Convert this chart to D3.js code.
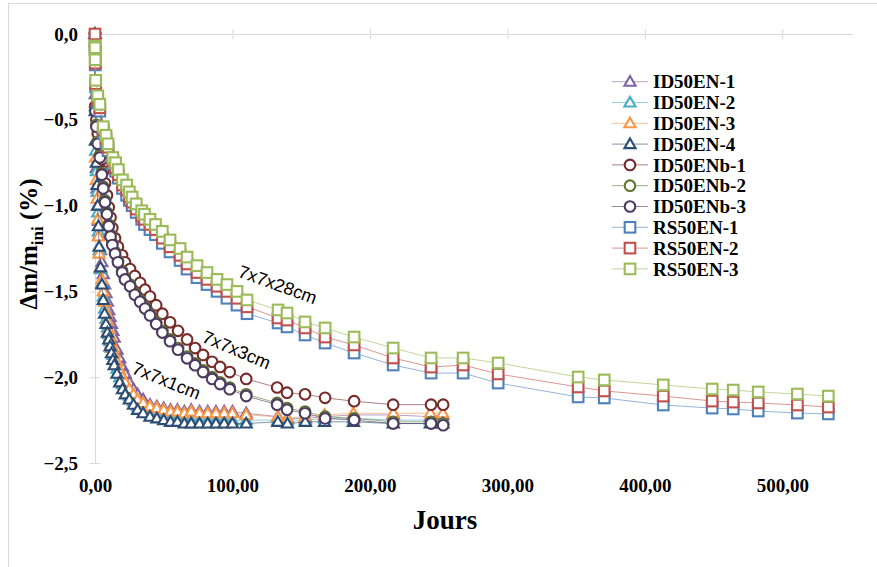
<!DOCTYPE html>
<html>
<head>
<meta charset="utf-8">
<script src="https://cdn.jsdelivr.net/npm/d3@7/dist/d3.min.js"></script>
<style>
  html, body { margin: 0; padding: 0; background: #fff; }
  svg { display: block; }
  .tick-label { font-family: "Liberation Serif", "Times New Roman", serif; font-weight: bold; fill: #000; }
</style>
</head>
<body>
<svg id="chart" width="877" height="567"></svg>
<script>
// ---- Data: mass loss Δm/m_ini (%) vs. time (days) ----
const xTicks = [0, 100, 200, 300, 400, 500];
const yTicks = [0, -0.5, -1.0, -1.5, -2.0, -2.5];

// 7x7x1cm specimens (triangles)
const daysID50EN = [0, 0.2, 0.5, 1, 1.5, 2, 2.5, 3, 4, 5, 6, 7, 8, 9, 10, 11, 12, 13, 14, 16, 18, 20, 22, 25, 28, 31, 35, 40, 45, 50, 55, 60, 65, 70, 76, 82, 88, 94, 100, 110, 133, 140, 153, 167, 188, 217, 244, 253];
const ID50EN_1 = [0, -0.35, -0.62, -0.78, -0.90, -1.00, -1.09, -1.17, -1.26, -1.33, -1.40, -1.46, -1.51, -1.56, -1.61, -1.65, -1.69, -1.73, -1.77, -1.84, -1.89, -1.94, -1.98, -2.03, -2.07, -2.10, -2.13, -2.16, -2.17, -2.18, -2.19, -2.19, -2.20, -2.19, -2.20, -2.20, -2.20, -2.20, -2.20, -2.21, -2.23, -2.24, -2.24, -2.23, -2.22, -2.22, -2.23, -2.22];
const ID50EN_2 = [0, -0.42, -0.68, -0.80, -0.92, -1.04, -1.15, -1.26, -1.37, -1.45, -1.53, -1.60, -1.66, -1.71, -1.75, -1.79, -1.83, -1.87, -1.90, -1.95, -2.00, -2.04, -2.07, -2.11, -2.14, -2.17, -2.19, -2.21, -2.22, -2.23, -2.24, -2.24, -2.25, -2.25, -2.25, -2.25, -2.25, -2.25, -2.25, -2.25, -2.25, -2.25, -2.25, -2.24, -2.24, -2.25, -2.25, -2.25];
const ID50EN_3 = [0, -0.40, -0.72, -0.85, -0.96, -1.08, -1.18, -1.28, -1.36, -1.43, -1.50, -1.56, -1.62, -1.67, -1.72, -1.76, -1.80, -1.83, -1.86, -1.91, -1.96, -2.00, -2.03, -2.07, -2.10, -2.13, -2.15, -2.17, -2.18, -2.19, -2.20, -2.20, -2.21, -2.20, -2.21, -2.21, -2.21, -2.21, -2.21, -2.22, -2.23, -2.24, -2.23, -2.22, -2.21, -2.21, -2.21, -2.21];
const ID50EN_4 = [0, -0.45, -0.62, -0.75, -0.88, -1.00, -1.12, -1.24, -1.36, -1.46, -1.55, -1.63, -1.69, -1.74, -1.78, -1.82, -1.86, -1.90, -1.93, -1.98, -2.03, -2.07, -2.10, -2.13, -2.16, -2.19, -2.21, -2.23, -2.24, -2.25, -2.26, -2.26, -2.27, -2.27, -2.27, -2.27, -2.27, -2.27, -2.27, -2.27, -2.26, -2.27, -2.26, -2.26, -2.26, -2.27, -2.27, -2.27];

// 7x7x3cm specimens (circles)
const daysID50ENb = [0, 0.3, 1, 2, 3.5, 5, 6, 7.3, 8.7, 10, 11.3, 12.6, 14.6, 16.7, 19.7, 21.8, 25.5, 29, 32.8, 36.4, 40, 44.5, 49, 54.6, 60.4, 67, 72.8, 78.6, 85.2, 91, 98, 110, 132.5, 139.7, 152.8, 167.4, 188.5, 216.9, 244.5, 253.3];
const ID50ENb_1 = [0, -0.42, -0.50, -0.58, -0.65, -0.73, -0.80, -0.87, -0.94, -1.01, -1.07, -1.13, -1.19, -1.24, -1.29, -1.33, -1.37, -1.41, -1.45, -1.49, -1.53, -1.58, -1.63, -1.68, -1.73, -1.78, -1.83, -1.87, -1.91, -1.94, -1.97, -2.01, -2.06, -2.09, -2.10, -2.12, -2.14, -2.16, -2.16, -2.16];
const ID50ENb_2 = [0, -0.44, -0.53, -0.63, -0.71, -0.81, -0.89, -0.97, -1.04, -1.11, -1.17, -1.22, -1.27, -1.32, -1.38, -1.42, -1.46, -1.51, -1.55, -1.59, -1.63, -1.68, -1.73, -1.78, -1.83, -1.88, -1.92, -1.96, -2.00, -2.03, -2.06, -2.10, -2.15, -2.18, -2.20, -2.23, -2.24, -2.26, -2.26, -2.27];
const ID50ENb_3 = [0, -0.45, -0.54, -0.64, -0.72, -0.82, -0.90, -0.98, -1.05, -1.12, -1.18, -1.23, -1.28, -1.33, -1.39, -1.43, -1.47, -1.52, -1.56, -1.60, -1.64, -1.69, -1.74, -1.79, -1.84, -1.89, -1.93, -1.97, -2.01, -2.04, -2.07, -2.11, -2.16, -2.19, -2.21, -2.24, -2.25, -2.27, -2.27, -2.28];

// 7x7x28cm specimens (squares)
const daysRS50EN = [0, 0.1, 0.2, 0.5, 2, 3.5, 6, 8, 9.5, 13, 15, 17, 20, 23, 25, 27, 30, 34, 36, 40, 44, 49, 54.6, 61.9, 67, 74.2, 81.5, 88.8, 96, 103.3, 110.6, 133.2, 139.7, 152.8, 167.4, 188.5, 216.9, 244.5, 267.8, 293.3, 351.5, 370.5, 413.4, 449, 464.3, 482.5, 511, 533.5];
const RS50EN_1 = [-0.05, -0.10, -0.18, -0.31, -0.40, -0.45, -0.58, -0.63, -0.68, -0.76, -0.80, -0.84, -0.90, -0.94, -0.97, -1.00, -1.04, -1.08, -1.11, -1.14, -1.17, -1.22, -1.27, -1.32, -1.37, -1.42, -1.46, -1.50, -1.54, -1.58, -1.63, -1.684, -1.707, -1.754, -1.801, -1.859, -1.929, -1.976, -1.976, -2.034, -2.115, -2.121, -2.162, -2.18, -2.185, -2.197, -2.209, -2.214];
const RS50EN_2 = [0, -0.09, -0.17, -0.29, -0.38, -0.43, -0.56, -0.61, -0.66, -0.74, -0.78, -0.82, -0.88, -0.91, -0.95, -0.98, -1.02, -1.06, -1.08, -1.11, -1.14, -1.19, -1.24, -1.29, -1.34, -1.39, -1.43, -1.47, -1.50, -1.54, -1.59, -1.655, -1.667, -1.713, -1.766, -1.812, -1.888, -1.941, -1.929, -1.981, -2.057, -2.08, -2.11, -2.139, -2.145, -2.15, -2.162, -2.174];
const RS50EN_3 = [-0.07, -0.08, -0.15, -0.27, -0.36, -0.41, -0.54, -0.59, -0.64, -0.72, -0.75, -0.79, -0.85, -0.88, -0.92, -0.95, -0.99, -1.03, -1.05, -1.08, -1.11, -1.15, -1.20, -1.25, -1.30, -1.35, -1.39, -1.43, -1.46, -1.50, -1.55, -1.608, -1.626, -1.678, -1.713, -1.766, -1.83, -1.888, -1.888, -1.917, -1.999, -2.016, -2.045, -2.069, -2.075, -2.086, -2.098, -2.11];

const seriesNames = ["ID50EN-1", "ID50EN-2", "ID50EN-3", "ID50EN-4", "ID50ENb-1", "ID50ENb-2", "ID50ENb-3", "RS50EN-1", "RS50EN-2", "RS50EN-3"];
const seriesColors = ["#8064A2", "#4BACC6", "#F79646", "#2C4D75", "#772C2A", "#5F7530", "#4D3B62", "#4F81BD", "#C0504D", "#9BBB59"];
const seriesShapes = ["triangle", "triangle", "triangle", "triangle", "circle", "circle", "circle", "square", "square", "square"];
const seriesDays = [daysID50EN, daysID50EN, daysID50EN, daysID50EN, daysID50ENb, daysID50ENb, daysID50ENb, daysRS50EN, daysRS50EN, daysRS50EN];
const seriesValues = [ID50EN_1, ID50EN_2, ID50EN_3, ID50EN_4, ID50ENb_1, ID50ENb_2, ID50ENb_3, RS50EN_1, RS50EN_2, RS50EN_3];

const sizeLabels = ["7x7x1cm", "7x7x3cm", "7x7x28cm"];
const sizeLabelAnchors = [[52, -2.02], [103, -1.84], [133, -1.46]]; // [day, value] at label centre
const sizeLabelAngles = [22, 23, 20];

// ---- Layout ----
const svg = d3.select("#chart");
const W = 877, H = 567;
const x = d3.scaleLinear().domain([0, 550]).range([95, 851]);
const y = d3.scaleLinear().domain([0, -2.5]).range([34, 463]);
const axisGrey = "#d9d9d9";
const commaFmt = (n, p) => d3.format("." + p + "f")(n).replace(".", ",");

// chart border
svg.append("rect")
  .attr("x", 8.5).attr("y", 3.5).attr("width", W + 10).attr("height", H + 10)
  .attr("fill", "#fff").attr("stroke", "#d9d9d9").attr("stroke-width", 1);

// axis lines (x axis crosses at 0 at the top; y axis at day 0)
const axes = svg.append("g");
axes.append("line")
  .attr("x1", x(0)).attr("x2", x(550) + 2).attr("y1", y(0) + 0.5).attr("y2", y(0) + 0.5)
  .attr("stroke", axisGrey);
axes.append("line")
  .attr("x1", x(0) + 0.5).attr("x2", x(0) + 0.5).attr("y1", y(0)).attr("y2", y(-2.5))
  .attr("stroke", axisGrey);
axes.selectAll(".xt").data(xTicks).join("line")
  .attr("x1", d => x(d) + 0.5).attr("x2", d => x(d) + 0.5)
  .attr("y1", y(0) - 5).attr("y2", y(0) + 5).attr("stroke", axisGrey);
axes.selectAll(".yt").data(yTicks).join("line")
  .attr("x1", x(0) - 5).attr("x2", x(0) + 5)
  .attr("y1", d => y(d) + 0.5).attr("y2", d => y(d) + 0.5).attr("stroke", axisGrey);

// tick labels through d3 axes (labels sit at the low end of each axis)
const xAxis = d3.axisBottom(x).tickValues(xTicks).tickSize(0).tickPadding(0)
  .tickFormat(d => commaFmt(d, 2));
svg.append("g").attr("transform", `translate(0, ${478})`).call(xAxis)
  .call(g => g.select(".domain").remove())
  .selectAll("text").attr("class", "tick-label").style("font-size", "19px")
  .attr("dy", "0.71em").attr("y", 0);

const yAxis = d3.axisLeft(y).tickValues(yTicks).tickSize(0).tickPadding(0)
  .tickFormat(d => commaFmt(d, 1));
svg.append("g").attr("transform", `translate(${78}, 0)`).call(yAxis)
  .call(g => g.select(".domain").remove())
  .selectAll("text").attr("class", "tick-label").style("font-size", "19px");

// axis titles
svg.append("text")
  .attr("x", 445).attr("y", 529).attr("text-anchor", "middle")
  .attr("class", "tick-label").style("font-size", "27px").text("Jours");

const yTitle = svg.append("text")
  .attr("transform", "translate(37, 244) rotate(-90)")
  .attr("text-anchor", "middle")
  .attr("class", "tick-label").style("font-size", "25px");
yTitle.append("tspan").text("Δm/m");
yTitle.append("tspan").attr("dy", 6).style("font-size", "17px").text("ini");
yTitle.append("tspan").attr("dy", -6).text(" (%)");

// ---- Series ----
const plot = svg.append("g");
const line = d3.line().x(d => x(d[0])).y(d => y(d[1]));
const triangle = d3.symbol().type(d3.symbolTriangle).size(54);

function drawMarker(sel, shape, color) {
  if (shape === "circle") {
    sel.append("circle").attr("r", 5.3);
  } else if (shape === "square") {
    sel.append("rect").attr("x", -5.3).attr("y", -5.3).attr("width", 10.6).attr("height", 10.6);
  } else {
    sel.append("path").attr("d", triangle()).attr("transform", "translate(0,0.8)");
  }
  sel.selectAll("circle, rect, path")
    .attr("fill", "#fff").attr("stroke", color).attr("stroke-width", 2.1);
}

seriesNames.forEach((name, i) => {
  const pts = seriesDays[i].map((d, k) => [d, seriesValues[i][k]]);
  const g = plot.append("g").attr("class", "series");
  g.append("path").datum(pts).attr("d", line)
    .attr("fill", "none").attr("stroke", seriesColors[i])
    .attr("stroke-width", 1).attr("stroke-opacity", 0.6);
  g.selectAll("g.pt").data(pts).join("g").attr("class", "pt")
    .attr("transform", d => `translate(${x(d[0])},${y(d[1])})`)
    .each(function () { drawMarker(d3.select(this), seriesShapes[i], seriesColors[i]); });
});

// size annotations
svg.selectAll(".size-label").data(sizeLabels).join("text")
  .attr("class", "size-label")
  .attr("transform", (d, i) => `translate(${x(sizeLabelAnchors[i][0])},${y(sizeLabelAnchors[i][1])}) rotate(${sizeLabelAngles[i]})`)
  .attr("text-anchor", "middle").attr("dy", "0.35em")
  .style("font-family", "Liberation Sans, Arial, sans-serif").style("font-size", "18px")
  .text(d => d);

// ---- Legend ----
const legend = svg.append("g");
const legendItems = legend.selectAll("g").data(seriesNames).join("g")
  .attr("transform", (d, i) => `translate(612, ${81.7 + i * 20.8})`);
legendItems.append("line").attr("x1", 0).attr("x2", 36)
  .attr("stroke", (d, i) => seriesColors[i]).attr("stroke-opacity", 0.6);
legendItems.each(function (d, i) {
  const m = d3.select(this).append("g").attr("transform", "translate(18,0)");
  drawMarker(m, seriesShapes[i], seriesColors[i]);
});
legendItems.append("text").attr("x", 41).attr("dy", "0.35em")
  .attr("class", "tick-label").style("font-size", "19px").text(d => d);
</script>
</body>
</html>
